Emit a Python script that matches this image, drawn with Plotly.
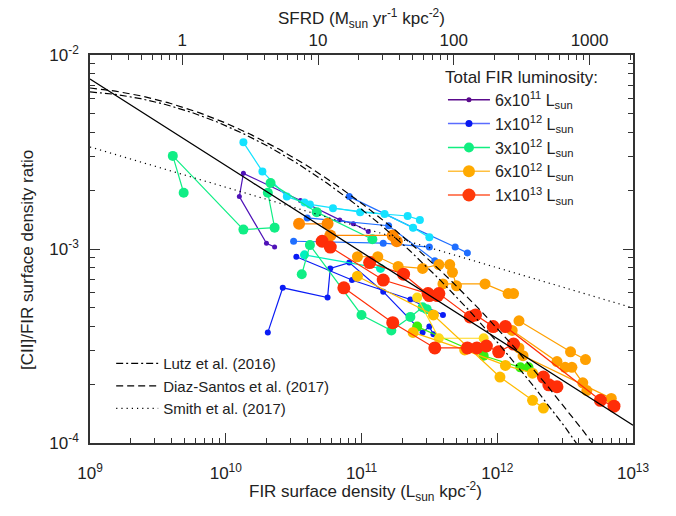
import numpy as np
import plotly.graph_objects as go

# ---------------- data ----------------
# log10 FIR surface density [Lsun kpc^-2] and log10 [CII]/FIR, one inner list per galaxy track
purple_sigma = [[10.36, 10.30, 10.10, 10.13, 10.55, 10.84, 10.94, 11.05]]
purple_ratio = [[-2.99, -2.97, -2.73, -2.61, -2.75, -2.85, -2.87, -2.91]]

blue_sigma = [[10.31, 10.42, 10.75, 10.77, 10.91, 11.16, 11.45, 11.50, 11.53],
              [10.52, 10.93, 11.36, 11.60]]
blue_ratio = [[-3.43, -3.20, -3.25, -3.10, -3.07, -3.22, -3.43, -3.40, -3.44],
              [-3.04, -3.16, -3.26, -3.34]]

royal_sigma = [[10.91, 11.38, 11.69, 11.78], [10.60, 11.20, 11.54], [10.50, 11.16, 11.50]]
royal_ratio = [[-2.73, -2.89, -2.99, -3.02], [-2.84, -2.88, -3.06], [-2.96, -2.97, -2.99]]

cyan_sigma = [[10.13, 10.27, 10.45, 10.58, 10.62, 10.99, 11.34, 11.43],
              [10.79, 11.17, 11.38, 11.50]]
cyan_ratio = [[-2.45, -2.60, -2.73, -2.76, -2.77, -2.81, -2.83, -2.85],
              [-2.79, -2.82, -2.89, -2.94]]

teal_sigma = [[10.58, 11.14]]
teal_ratio = [[-3.03, -3.10]]

spring_sigma = [[9.69, 9.61, 10.13, 10.36, 10.31, 10.33, 10.67, 11.08],
                [10.56, 10.62, 11.00, 11.22, 11.36, 11.45, 11.48]]
spring_ratio = [[-2.71, -2.52, -2.90, -2.89, -2.71, -2.66, -2.81, -2.95],
                [-3.13, -2.98, -3.34, -3.42, -3.35, -3.30, -3.31]]

green_sigma = [[11.41, 11.90, 12.17, 12.23]]
green_ratio = [[-3.40, -3.55, -3.61, -3.61]]

yellow_sigma = [[11.41, 11.57, 11.90]]
yellow_ratio = [[-3.25, -3.46, -3.46]]

amber_sigma = [[10.97, 11.53, 12.02, 12.26, 12.34], [11.38, 11.76, 12.06, 12.26]]
amber_ratio = [[-3.14, -3.34, -3.66, -3.78, -3.82], [-3.43, -3.52, -3.60, -3.64]]

orange_sigma = [[10.97, 11.12, 11.27, 11.45, 11.57, 11.65, 11.67, 11.70],
                [11.60, 11.91, 12.08, 12.12],
                [12.16, 12.54, 12.65],
                [12.11, 12.44, 12.50, 12.55, 12.63, 12.66],
                [12.16, 12.19, 12.84]]
orange_ratio = [[-3.04, -3.04, -3.09, -3.10, -3.08, -3.08, -3.12, -3.19],
                [-3.18, -3.18, -3.23, -3.23],
                [-3.37, -3.53, -3.57],
                [-3.42, -3.58, -3.61, -3.61, -3.69, -3.73],
                [-3.51, -3.55, -3.77]]

darkorange_sigma = [[10.54, 10.75, 10.77, 11.23, 11.26]]
darkorange_ratio = [[-2.87, -2.87, -2.93, -2.93, -2.96]]

red_sigma = [[10.71, 10.77, 11.16, 11.49, 11.57, 11.80, 11.84, 11.97, 12.06, 12.76, 12.86],
             [10.87, 11.23, 11.54, 11.78, 11.85, 11.92, 12.01, 12.12],
             [11.06, 11.31, 11.50, 11.56],
             [12.34, 12.38, 12.44]]
red_ratio = [[-2.96, -2.99, -3.16, -3.23, -3.23, -3.35, -3.34, -3.40, -3.40, -3.78, -3.81],
             [-3.20, -3.38, -3.51, -3.51, -3.51, -3.50, -3.53, -3.49],
             [-3.07, -3.13, -3.24, -3.24],
             [-3.66, -3.70, -3.71]]

legend_names = ["6x10<sup>11</sup> L<sub>sun</sub>", "1x10<sup>12</sup> L<sub>sun</sub>",
                "3x10<sup>12</sup> L<sub>sun</sub>", "6x10<sup>12</sup> L<sub>sun</sub>",
                "1x10<sup>13</sup> L<sub>sun</sub>"]

model_names = ["Lutz et al. (2016)", "Diaz-Santos et al. (2017)", "Smith et al. (2017)"]
# quadratic coefficients in u = log10(Sigma_FIR) - 9  ->  log10 ratio
lutz_coef = [-2.19, -0.046, -0.128]
diaz_coef = [-2.17, -0.065, -0.116]
smith_coef = [-2.474, -0.2075, 0.0]
fit_coef = [-2.124, -0.446, 0.0]

log_sfrd_offset = -9.68   # log10(SFRD / Sigma_FIR)

x_ticks = [1e9, 1e10, 1e11, 1e12, 1e13]
x_ticktext = ["10<sup>9</sup>", "10<sup>10</sup>", "10<sup>11</sup>", "10<sup>12</sup>", "10<sup>13</sup>"]
y_ticks = [1e-4, 1e-3, 1e-2]
y_ticktext = ["10<sup>-4</sup>", "10<sup>-3</sup>", "10<sup>-2</sup>"]
top_ticks = [1, 10, 100, 1000]
top_ticktext = ["1", "10", "100", "1000"]

x_title = "FIR surface density (L<sub>sun</sub> kpc<sup>-2</sup>)"
top_title = "SFRD (M<sub>sun</sub> yr<sup>-1</sup> kpc<sup>-2</sup>)"
y_title = "[CII]/FIR surface density ratio"

# ---------------- figure ----------------
def join(tracks):
    out = []
    for t in tracks:
        out += [10 ** v for v in t] + [None]
    return out

classes = [
    (purple_sigma, purple_ratio, "#4f12b8", 5),
    (blue_sigma, blue_ratio, "#0a1cf5", 6),
    (royal_sigma, royal_ratio, "#1f6eff", 7),
    (cyan_sigma, cyan_ratio, "#14e2ff", 8),
    (teal_sigma, teal_ratio, "#00f0c0", 9),
    (spring_sigma, spring_ratio, "#10ee85", 10),
    (green_sigma, green_ratio, "#38ee10", 10),
    (yellow_sigma, yellow_ratio, "#ffd81a", 10),
    (amber_sigma, amber_ratio, "#ffbb00", 11),
    (orange_sigma, orange_ratio, "#ffa000", 11),
    (darkorange_sigma, darkorange_ratio, "#ff8800", 12),
    (red_sigma, red_ratio, "#ff2e08", 13),
]

fig = go.Figure()
for s, r, col, size in classes:
    fig.add_trace(go.Scatter(x=join(s), y=join(r), mode="lines+markers",
                             line=dict(color=col, width=1.2),
                             marker=dict(color=col, size=size),
                             showlegend=False, hoverinfo="skip"))

# model relations
xm = np.logspace(9, 13, 300)
um = np.log10(xm) - 9
def curve(c):
    return 10 ** (c[0] + c[1] * um + c[2] * um ** 2)

fig.add_trace(go.Scatter(x=xm, y=curve(fit_coef), mode="lines",
                         line=dict(color="black", width=1.3), showlegend=False, hoverinfo="skip"))
for name, coef, dash in zip(model_names, [lutz_coef, diaz_coef, smith_coef],
                            ["7px,3px,2px,3px", "7px,4px", "1.2px,4px"]):
    fig.add_trace(go.Scatter(x=xm, y=curve(coef), mode="lines", name=name,
                             line=dict(color="black", width=1.2, dash=dash),
                             legend="legend2", hoverinfo="skip"))

# legend entries for total FIR luminosity
leg_cols = [("#5a0a8c", "#5a0a8c", 5), ("#0818f0", "#5a6cff", 7), ("#10ee80", "#10ee80", 10),
            ("#ffaa00", "#ffc040", 12), ("#ff3a0a", "#ff5a30", 13)]
for name, (mc, lc, sz) in zip(legend_names, leg_cols):
    fig.add_trace(go.Scatter(x=[None], y=[None], mode="lines+markers", name=name,
                             line=dict(color=lc, width=1.5), marker=dict(color=mc, size=sz)))

# dummy trace to activate the top SFRD axis
sfrd_range = [9 + log_sfrd_offset, 13 + log_sfrd_offset]
fig.add_trace(go.Scatter(x=[10 ** sfrd_range[0], 10 ** sfrd_range[1]], y=[1e-3, 1e-3],
                         xaxis="x2", mode="markers", marker=dict(opacity=0),
                         showlegend=False, hoverinfo="skip"))

def minors(lo, hi):
    return [m * 10 ** e for e in range(lo, hi) for m in range(2, 10)]

font = "Liberation Sans, Arial, sans-serif"
tfont = dict(family=font, size=17, color="#222")
axis_common = dict(type="log", showgrid=False, zeroline=False, showline=True,
                   linecolor="#333", linewidth=1.5, ticks="inside", ticklen=10,
                   tickwidth=1.2, tickcolor="#333", automargin=False,
                   tickfont=tfont)

fig.update_layout(
    width=676, height=516,
    margin=dict(l=90, r=43, t=55, b=73),
    paper_bgcolor="white", plot_bgcolor="white",
    font=dict(family=font, size=16, color="#222"),
    xaxis=dict(range=[9, 13], tickvals=x_ticks, ticktext=x_ticktext,
               minor=dict(ticks="inside", ticklen=5, tickcolor="#333", tickvals=minors(9, 13)),
               ticklabelstandoff=14, **axis_common),
    xaxis2=dict(range=sfrd_range, overlaying="x", side="top", anchor="y",
                tickvals=top_ticks, ticktext=top_ticktext,
                minor=dict(ticks="inside", ticklen=5, tickcolor="#333", tickvals=minors(-1, 4)),
                ticklabelstandoff=0, **axis_common),
    yaxis=dict(range=[-4, -2], tickvals=y_ticks, ticktext=y_ticktext, mirror="ticks",
               minor=dict(ticks="inside", ticklen=5, tickcolor="#333", tickvals=minors(-4, -2)),
               ticklabelstandoff=6, **axis_common),
    legend=dict(x=0.65, y=0.985, xanchor="left", yanchor="top",
                bgcolor="rgba(0,0,0,0)", font=dict(family=font, size=16, color="#222"),
                title=dict(text="Total FIR luminosity:", font=tfont),
                itemwidth=42, tracegroupgap=0),
    legend2=dict(x=0.039, y=0.247, xanchor="left", yanchor="top",
                 bgcolor="rgba(0,0,0,0)", font=dict(family=font, size=15, color="#222"),
                 itemwidth=42),
    showlegend=True,
    annotations=[
        dict(text=x_title, xref="paper", yref="paper", x=0.507, y=-0.126,
             xanchor="center", yanchor="middle", showarrow=False, font=tfont),
        dict(text=top_title, xref="paper", yref="paper", x=0.5, y=1.095,
             xanchor="center", yanchor="middle", showarrow=False, font=tfont),
        dict(text=y_title, xref="paper", yref="paper", x=-0.114, y=0.472, textangle=-90,
             xanchor="center", yanchor="middle", showarrow=False, font=tfont),
    ],
)

fig.write_html("out.html", config={"displayModeBar": False},
               post_script="document.body.style.margin='0px';")
